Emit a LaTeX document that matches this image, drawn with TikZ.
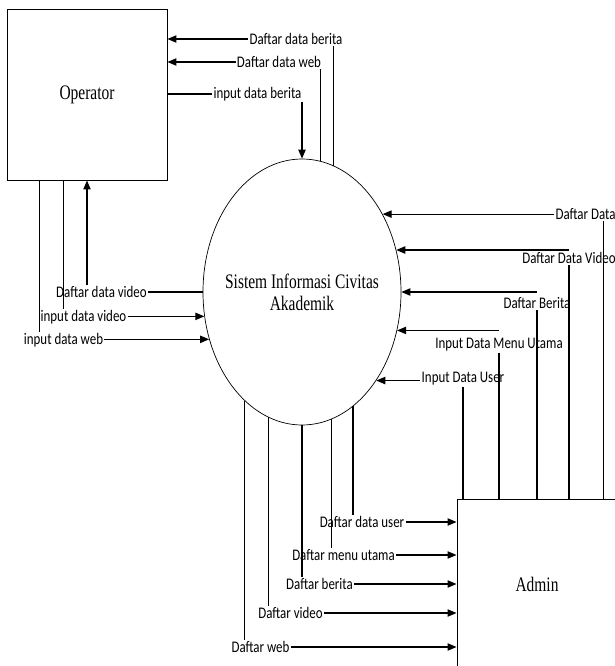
\documentclass[tikz,border=0pt]{standalone}
\usepackage{fontspec}
\setmainfont{Liberation Serif}[FakeStretch=0.75]
\newfontfamily\lblfont{Carlito}[FakeStretch=0.8]
\usetikzlibrary{arrows.meta,shapes.geometric,calc}

\begin{document}
\begin{tikzpicture}[x=0.03cm, y=-0.03cm,
  entity/.style={draw, line width=0.8pt, minimum width=4.8cm, minimum height=5.13cm,
                 font=\fontsize{17.6}{19}\selectfont},
  process/.style={ellipse, draw, line width=0.6pt, minimum width=5.94cm,
                  minimum height=7.98cm, inner sep=0pt},
  proctext/.style={align=center, font=\fontsize{17.6}{18.8}\selectfont},
  lbl/.style={inner sep=1pt, font=\lblfont\fontsize{13.8}{15}\selectfont},
  flow/.style={-{Triangle[length=0.27cm, width=0.22cm]}, line width=1pt}
]
  \useasboundingbox (0,0) rectangle (615,666);

  \node[entity] (op) at (87,94.5) {Operator};
  \node[entity, minimum height=5.1cm] (admin) at (537,584) {Admin};
  \node[process] (sys) at (302,292) {};
  \node[proctext] (systext) at (sys.center) {Sistem Informasi Civitas\\Akademik};

  \node[lbl] (dberita) at (296,39) {Daftar data berita};
  \node[lbl] (dweb) at (279,62) {Daftar data web};
  \node[lbl] (iberita) at (257.5,94) {input data berita};
  \node[lbl] (dvideo) at (101.5,292) {Daftar data video};
  \node[lbl] (ivideo) at (83.5,317) {input data video};
  \node[lbl] (iweb) at (63.5,340) {input data web};

  \node[lbl] (adata) at (585.5,214) {Daftar Data};
  \node[lbl] (avideo) at (569,258) {Daftar Data Video};
  \node[lbl] (aberita) at (537,303) {Daftar Berita};
  \node[lbl] (amenu) at (499,345) {Input Data Menu Utama};
  \node[lbl] (auser) at (463,379) {Input Data User};

  \node[lbl] (buser) at (362,522) {Daftar data user};
  \node[lbl] (bmenu) at (343.5,555) {Daftar menu utama};
  \node[lbl] (bberita) at (319.5,584) {Daftar berita};
  \node[lbl] (bvideo) at (290.5,613) {Daftar video};
  \node[lbl] (bweb) at (260.5,647) {Daftar web};

  \draw[flow] (sys.76.7) -- (sys.76.7 |- dberita.south) (dberita.west) -- (op.east |- dberita);
  \draw[flow] (sys.82.6) -- (sys.82.6 |- dweb.south) (dweb.west) -- (op.east |- dweb);
  \draw[flow] (op.east |- iberita) -- (iberita.west) (sys.north |- iberita.south) -- (sys.north);
  \draw[flow] (sys.west) -- (sys.west -| dvideo.east) (op.south |- dvideo.north) -- (op.south);
  \draw[flow] ($(op.south west)+(57,0)$) coordinate (iv) -- (iv |- ivideo.north)
    (sys.194.4 -| ivideo.east) -- (sys.194.4);
  \draw[flow] ($(op.south west)+(33,0)$) coordinate (iw) -- (iw |- iweb.north)
    (sys.207.5 -| iweb.east) -- (sys.207.5);

  \draw[flow] ($(admin.north east)+(-14,0)$) coordinate (ad) -- (ad |- adata.south)
    (sys.44.2 -| adata.west) -- (sys.44.2);
  \draw[flow] (admin.north -| avideo) -- (avideo.south) (avideo.north |- sys.24.1) -- (sys.24.1);
  \draw[flow] (admin.north) -- (aberita.south) (aberita.north |- sys.east) -- (sys.east);
  \draw[flow] (admin.north -| amenu) -- (amenu.south) (amenu.north |- sys.338.7) -- (sys.338.7);
  \draw[flow] (admin.north -| auser) -- (auser.south) (sys.310.7 -| auser.west) -- (sys.310.7);

  \draw[flow] (sys.294.1) -- (sys.294.1 |- buser.north) (buser.east) -- (admin.west |- buser);
  \draw[flow] (sys.283.8) -- (sys.283.8 |- bmenu.north) (bmenu.east) -- (admin.west |- bmenu);
  \draw[flow] (sys.south) -- (sys.south |- bberita.north) (bberita.east) -- (admin.west |- bberita);
  \draw[flow] (sys.255.7) -- (sys.255.7 |- bvideo.north) (bvideo.east) -- (admin.west |- bvideo);
  \draw[flow] (sys.242.9) -- (sys.242.9 |- bweb.north) (bweb.east) -- (admin.west |- bweb);

\end{tikzpicture}
\end{document}
